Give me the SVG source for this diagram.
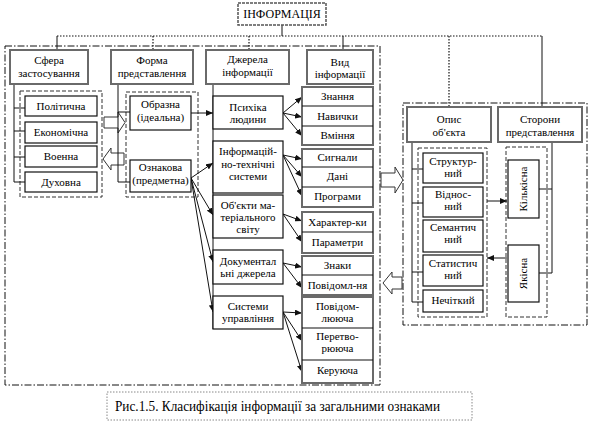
<svg xmlns="http://www.w3.org/2000/svg" width="592" height="422" viewBox="0 0 592 422" font-family="'Liberation Serif', 'DejaVu Serif', serif">
<style>
text{font-family:'Liberation Serif','DejaVu Serif',serif;font-size:11px;fill:#000;text-anchor:middle}
.cat{fill:#fff;stroke:#6a6a6a;stroke-width:2}
.itm{fill:#fff;stroke:#111;stroke-width:1.2}
.grp{fill:#fff;stroke:#6a6a6a;stroke-width:2}
.sep{stroke:#111;stroke-width:1.2}
.dgrp{fill:none;stroke:#333;stroke-width:1;stroke-dasharray:4 2}
.frame{fill:none;stroke:#111;stroke-width:1;stroke-dasharray:7 2 1.5 2}
.ln{fill:none;stroke:#111;stroke-width:1}
.dot{fill:none;stroke:#111;stroke-width:1.2;stroke-dasharray:1.5 1.5}
.arr{fill:none;stroke:#111;stroke-width:1;marker-end:url(#ah)}
.blk{fill:#fff;stroke:#333;stroke-width:1}
</style>
<defs>
<marker id="ah" markerWidth="7" markerHeight="6" refX="7" refY="3" orient="auto" markerUnits="userSpaceOnUse">
<path d="M0,0 L7,3 L0,6 Z" fill="#111"/>
</marker>
</defs>

<g id="frames">
<rect class="frame" x="5" y="46" width="375" height="339"/>
<rect class="frame" x="403" y="103" width="184" height="222"/>
<rect class="dgrp" x="20" y="91" width="82" height="106"/>
<rect class="dgrp" x="126" y="92" width="72" height="105"/>
<rect class="dgrp" x="418" y="148" width="69" height="169"/>
<rect class="dgrp" x="506" y="147" width="41" height="170"/>
</g>

<g id="connectors">
<path class="ln" d="M282,25 V36"/>
<path class="dot" d="M57,36 H542"/>
<path class="ln" d="M57,36 V50"/>
<path class="dot" d="M153,36 V50"/>
<path class="dot" d="M249,36 V50"/>
<path class="ln" d="M343,36 V50"/>
<path class="dot" d="M449,36 V107"/>
<path class="ln" d="M542,36 V107"/>
<path class="ln" d="M14,84 V182 M14,108 H25 M14,131 H25 M14,157 H25 M14,182 H25"/>
<path class="blk" d="M104,117 H118 V112 L125,122.5 L118,133 V128 H104 Z"/>
<path class="blk" d="M124,153 H111 V148 L103,159 L111,170 V165 H124 Z"/>
<path class="ln" d="M118,84 V182 M118,112 H130 M118,182 H130"/>
<path class="ln" d="M213,84 V329"/>
<path class="ln" d="M412,142 V302 M412,169 H423 M412,203 H423 M412,272 H423 M412,302 H423"/>
<path class="ln" d="M552,142 V273 M552,189 H539 M552,273 H539"/>
<path class="arr" d="M191,113 H213"/>
<path class="arr" d="M191,178 L213,163"/>
<path class="arr" d="M191,178 L213,215"/>
<path class="arr" d="M191,178 L213,262"/>
<path class="arr" d="M191,178 L213,312"/>
<path class="arr" d="M283,113 L302,97"/>
<path class="arr" d="M283,113 L302,117"/>
<path class="arr" d="M283,113 L302,136"/>
<path class="arr" d="M283,155 L302,159"/>
<path class="arr" d="M283,155 L302,177"/>
<path class="arr" d="M283,155 L302,196"/>
<path class="arr" d="M283,214 L302,221"/>
<path class="arr" d="M283,214 L302,242"/>
<path class="arr" d="M283,263 L302,267"/>
<path class="arr" d="M283,263 L302,288"/>
<path class="arr" d="M283,312 L302,313"/>
<path class="arr" d="M283,312 L302,341"/>
<path class="arr" d="M283,312 L302,372"/>
<path class="arr" d="M487,201 H507"/>
<path class="arr" d="M507,258 H487"/>
<path class="blk" d="M381,173 H395 V167 L403,180 L395,193 V187 H381 Z"/>
<path class="blk" d="M402,277 H392 V272 L383,283 L392,294 V289 H402 Z"/>
</g>

<g id="n-info"><rect x="238" y="3" width="88" height="22" fill="#fff" stroke="#555" stroke-width="1.5" stroke-dasharray="3 1"/><text x="282" y="18" style="font-size:12px">ІНФОРМАЦІЯ</text></g>

<g id="n-sfera"><rect class="cat" x="10" y="50" width="78" height="34"/><text x="49" y="64">Сфера</text><text x="49" y="77">застосування</text></g>
<g id="n-forma"><rect class="cat" x="111" y="50" width="82" height="34"/><text x="152" y="64">Форма</text><text x="152" y="77">представлення</text></g>
<g id="n-dzherela"><rect class="cat" x="206" y="50" width="83" height="34"/><text x="247.5" y="63">Джерела</text><text x="247.5" y="76">інформації</text></g>
<g id="n-vyd"><rect class="cat" x="307" y="50" width="66" height="34"/><text x="340" y="66">Вид</text><text x="340" y="78">інформації</text></g>

<g id="n-politychna"><rect class="itm" x="25" y="96" width="72" height="20"/><text x="61" y="110">Політична</text></g>
<g id="n-ekonomichna"><rect class="itm" x="25" y="122" width="72" height="21"/><text x="61" y="136">Економічна</text></g>
<g id="n-voenna"><rect class="itm" x="25" y="146" width="72" height="21"/><text x="61" y="160">Военна</text></g>
<g id="n-dukhovna"><rect class="itm" x="25" y="172" width="72" height="20"/><text x="61" y="186">Духовна</text></g>

<g id="n-obrazna"><rect class="itm" x="130" y="96" width="61" height="34"/><text x="160.5" y="108">Образна</text><text x="160.5" y="121">(ідеальна)</text></g>
<g id="n-oznakova"><rect class="itm" x="130" y="160" width="61" height="32"/><text x="160.5" y="171">Ознакова</text><text x="160.5" y="184">(предметна)</text></g>

<g id="n-psykhika"><rect class="itm" x="213" y="96" width="70" height="33"/><text x="248" y="111">Психіка</text><text x="248" y="123">людини</text></g>
<g id="n-infotekh"><rect class="itm" x="213" y="141" width="70" height="52"/><text x="248" y="155">Інформацій-</text><text x="248" y="168">но-технічні</text><text x="248" y="180">системи</text></g>
<g id="n-obiekty"><rect class="itm" x="213" y="195" width="70" height="43"/><text x="248" y="209">Об'єкти ма-</text><text x="248" y="221">теріального</text><text x="248" y="233">світу</text></g>
<g id="n-dokument"><rect class="itm" x="213" y="250" width="70" height="34"/><text x="248" y="265">Документал</text><text x="248" y="277">ьні джерела</text></g>
<g id="n-systemy"><rect class="itm" x="213" y="296" width="70" height="33"/><text x="248" y="310">Системи</text><text x="248" y="322">управління</text></g>

<g id="n-vyd-1"><rect class="grp" x="302" y="87" width="71" height="58"/><path class="sep" d="M302,106 H373 M302,126 H373"/><text x="337.5" y="100">Знання</text><text x="337.5" y="120">Навички</text><text x="337.5" y="139">Вміння</text></g>
<g id="n-vyd-2"><rect class="grp" x="302" y="149" width="71" height="58"/><path class="sep" d="M302,167 H373 M302,187 H373"/><text x="337.5" y="161">Сигнали</text><text x="337.5" y="180">Дані</text><text x="337.5" y="200">Програми</text></g>
<g id="n-vyd-3"><rect class="grp" x="302" y="212" width="71" height="41"/><path class="sep" d="M302,232 H373"/><text x="337.5" y="226">Характер-ки</text><text x="337.5" y="246">Параметри</text></g>
<g id="n-vyd-4"><rect class="grp" x="302" y="256" width="71" height="39"/><path class="sep" d="M302,275 H373"/><text x="337.5" y="269">Знаки</text><text x="337.5" y="289">Повідомл-ня</text></g>
<g id="n-vyd-5"><rect class="grp" x="302" y="297" width="71" height="86"/><path class="sep" d="M302,328 H373 M302,360 H373"/><text x="337.5" y="310">Повідом-</text><text x="337.5" y="322">лююча</text><text x="337.5" y="340">Перетво-</text><text x="337.5" y="352">рююча</text><text x="337.5" y="374">Керуюча</text></g>

<g id="n-opys"><rect class="cat" x="407" y="107" width="84" height="35"/><text x="449" y="123">Опис</text><text x="449" y="136">об'єкта</text></g>
<g id="n-storony"><rect class="cat" x="498" y="107" width="84" height="35"/><text x="540" y="123">Сторони</text><text x="540" y="136">представлення</text></g>

<g id="n-strukt"><rect class="itm" x="423" y="153" width="60" height="30"/><text x="453" y="165">Структур-</text><text x="453" y="177">ний</text></g>
<g id="n-vidnos"><rect class="itm" x="423" y="187" width="60" height="30"/><text x="453" y="198">Віднос-</text><text x="453" y="210">ний</text></g>
<g id="n-semant"><rect class="itm" x="423" y="220" width="60" height="32"/><text x="453" y="231">Семантич</text><text x="453" y="243">ний</text></g>
<g id="n-statyst"><rect class="itm" x="423" y="255" width="60" height="31"/><text x="453" y="267">Статистич</text><text x="453" y="279">ний</text></g>
<g id="n-nechit"><rect class="itm" x="423" y="290" width="60" height="22"/><text x="453" y="304">Нечіткий</text></g>

<g id="n-kilk"><rect class="itm" x="508" y="160" width="31" height="58"/><text transform="translate(527,189) rotate(-90)" x="0" y="0">Кількісна</text></g>
<g id="n-yakis"><rect class="itm" x="508" y="245" width="31" height="57"/><text transform="translate(527,273.5) rotate(-90)" x="0" y="0">Якісна</text></g>

<g id="caption"><rect x="107" y="392" width="365" height="28" fill="none" stroke="#888" stroke-width="1" stroke-dasharray="1.5 1.5"/><text x="115" y="411" style="font-size:14px;text-anchor:start" textLength="325" lengthAdjust="spacingAndGlyphs">Рис.1.5. Класифікація інформації за загальними ознаками</text></g>
</svg>
